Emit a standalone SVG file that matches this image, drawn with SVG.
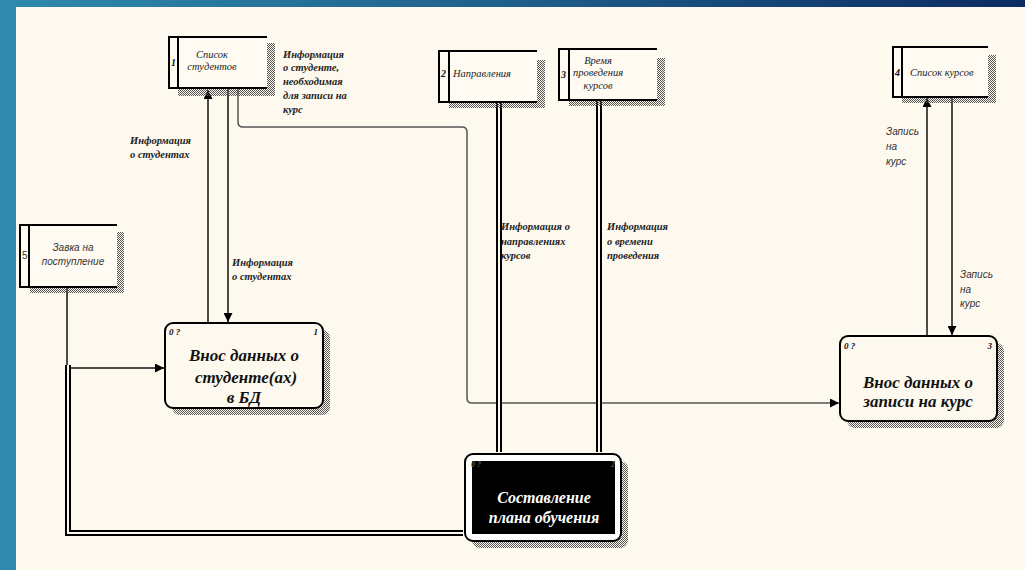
<svg xmlns="http://www.w3.org/2000/svg" width="1025" height="570" viewBox="0 0 1025 570">
<defs>
<linearGradient id="bg" x1="0" y1="0" x2="1" y2="0">
<stop offset="0" stop-color="#2f8aae"/>
<stop offset="0.5" stop-color="#1f5f8c"/>
<stop offset="1" stop-color="#0c2b62"/>
</linearGradient>
<pattern id="hatch" width="2" height="2" patternUnits="userSpaceOnUse">
<rect x="0" y="0" width="1" height="1" fill="#555"/>
<rect x="1" y="1" width="1" height="1" fill="#555"/>
</pattern>
<marker id="ah" viewBox="0 0 10 10" refX="10" refY="5" markerWidth="9" markerHeight="9" markerUnits="userSpaceOnUse" orient="auto">
<path d="M0,0 L10,5 L0,10 z" fill="#000"/>
</marker>
<style>
.store{fill:#fffbf2;stroke:none}
.sl{stroke:#000;stroke-width:2;fill:none}
.sh{fill:url(#hatch)}
.proc{fill:#fef9ee;stroke:#000;stroke-width:2}
.st{font-family:"Liberation Serif",serif;font-style:italic;font-size:10.5px;fill:#222}
.ss{font-family:"Liberation Sans",sans-serif;font-style:italic;font-size:10px;fill:#333}
.num{font-family:"Liberation Serif",serif;font-style:italic;font-weight:bold;font-size:10px;fill:#111}
.pt{font-family:"Liberation Serif",serif;font-style:italic;font-weight:bold;font-size:17px;fill:#111}
.ptw{font-family:"Liberation Serif",serif;font-style:italic;font-weight:bold;font-size:16px;fill:#fff}
.nd{font-family:"Liberation Serif",serif;font-style:italic;font-weight:bold;font-size:8px;fill:#555}
.lbl{font-family:"Liberation Serif",serif;font-style:italic;font-weight:bold;font-size:10.5px;fill:#222}
.ln{stroke:#111;stroke-width:1.5;fill:none}
.lg{stroke:#555;stroke-width:1.5;fill:none}
.dbo{stroke:#000;stroke-width:6;fill:none}
.dbi{stroke:#fef9ee;stroke-width:2;fill:none}
</style>
</defs>
<rect x="0" y="0" width="1025" height="570" fill="url(#bg)"/>
<rect x="16" y="7" width="1009" height="563" fill="#fef9ee"/>

<g id="connectors">
<line class="ln" x1="208" y1="323" x2="208" y2="90" marker-end="url(#ah)"/>
<line class="ln" x1="228" y1="89" x2="228" y2="322" marker-end="url(#ah)"/>
<path class="lg" d="M238,89 L238,122 Q238,127 243,127 L462,127 Q467,127 467,132 L467,398 Q467,403 472,403 L839,403" marker-end="url(#ah)"/>
<line class="dbo" x1="499" y1="102" x2="499" y2="452"/>
<line class="dbi" x1="499" y1="102" x2="499" y2="452"/>
<line class="dbo" x1="599" y1="100" x2="599" y2="452"/>
<line class="dbi" x1="599" y1="100" x2="599" y2="452"/>
<line class="ln" x1="927" y1="336" x2="927" y2="98" marker-end="url(#ah)"/>
<line class="ln" x1="952" y1="97" x2="952" y2="335" marker-end="url(#ah)"/>
<line class="ln" x1="67" y1="287" x2="67" y2="366"/>
<line class="ln" x1="68" y1="368" x2="164" y2="368" marker-end="url(#ah)"/>
<path class="dbo" d="M68,365 L68,533 L463,533"/>
<path class="dbi" d="M68,365 L68,533 L463,533"/>
</g>

<g id="labels">
<text class="lbl" x="283" y="58">Информация</text>
<text class="lbl" x="283" y="71">о студенте,</text>
<text class="lbl" x="283" y="85">необходимая</text>
<text class="lbl" x="283" y="99">для записи на</text>
<text class="lbl" x="283" y="113">курс</text>
<text class="lbl" x="130" y="144">Информация</text>
<text class="lbl" x="130" y="158">о студентах</text>
<text class="lbl" x="232" y="266">Информация</text>
<text class="lbl" x="232" y="280">о студентах</text>
<text class="lbl" x="501" y="230">Информация о</text>
<text class="lbl" x="501" y="245">направлениях</text>
<text class="lbl" x="501" y="259">курсов</text>
<text class="lbl" x="607" y="230">Информация</text>
<text class="lbl" x="607" y="245">о времени</text>
<text class="lbl" x="607" y="259">проведения</text>
<text class="ss" x="886" y="135">Запись</text>
<text class="ss" x="886" y="150">на</text>
<text class="ss" x="886" y="165">курс</text>
<text class="ss" x="960" y="278">Запись</text>
<text class="ss" x="960" y="293">на</text>
<text class="ss" x="960" y="307">курс</text>
</g>

<g id="store1">
<rect class="sh" x="267" y="43" width="8" height="53"/>
<rect class="sh" x="178" y="89" width="97" height="7"/>
<rect class="store" x="169" y="37" width="98" height="51"/>
<path class="sl" d="M267,37 L169,37 L169,88 L267,88 M178,37 L178,88"/>
<text class="num" x="171" y="66">1</text>
<text class="st" x="212" y="58" text-anchor="middle">Список</text>
<text class="st" x="212" y="70" text-anchor="middle">студентов</text>
</g>

<g id="store2">
<rect class="sh" x="537" y="60" width="8" height="48"/>
<rect class="sh" x="449" y="102" width="96" height="6"/>
<rect class="store" x="439" y="51" width="98" height="51"/>
<path class="sl" d="M537,51 L439,51 L439,102 L537,102 M449,51 L449,102"/>
<text class="num" x="441" y="77">2</text>
<text class="st" x="453" y="77">Направления</text>
</g>

<g id="store3">
<rect class="sh" x="657" y="58" width="8" height="48"/>
<rect class="sh" x="569" y="100" width="96" height="6"/>
<rect class="store" x="559" y="49" width="98" height="51"/>
<path class="sl" d="M657,49 L559,49 L559,100 L657,100 M569,49 L569,100"/>
<text class="num" x="561" y="78">3</text>
<text class="st" x="598" y="64" text-anchor="middle">Время</text>
<text class="st" x="598" y="76" text-anchor="middle">проведения</text>
<text class="st" x="598" y="89" text-anchor="middle">курсов</text>
</g>

<g id="store4">
<rect class="sh" x="988" y="55" width="8" height="48"/>
<rect class="sh" x="902" y="97" width="94" height="6"/>
<rect class="store" x="893" y="47" width="95" height="50"/>
<path class="sl" d="M988,47 L893,47 L893,97 L988,97 M902,47 L902,97"/>
<text class="num" x="895" y="76">4</text>
<text class="st" x="910" y="76">Список курсов</text>
</g>

<g id="store5">
<rect class="sh" x="117" y="232" width="7" height="61"/>
<rect class="sh" x="30" y="287" width="94" height="6"/>
<rect class="store" x="20" y="225" width="97" height="62"/>
<path class="sl" d="M117,225 L20,225 L20,287 L117,287 M29,225 L29,287"/>
<text class="ss" x="22" y="259" style="font-style:normal">5</text>
<text class="ss" x="73" y="251" text-anchor="middle">Завка на</text>
<text class="ss" x="73" y="265" text-anchor="middle">поступление</text>
</g>

<g id="process1">
<rect class="sh" x="172" y="330" width="158" height="85" rx="8"/>
<rect class="proc" x="165" y="323" width="158" height="85" rx="8"/>
<text class="num" x="169" y="335" style="font-size:9px">0 ?</text>
<text class="num" x="318" y="335" style="font-size:9px" text-anchor="end">1</text>
<text class="pt" x="244" y="361" text-anchor="middle">Внос данных о</text>
<text class="pt" x="246" y="383" text-anchor="middle">студенте(ах)</text>
<text class="pt" x="244" y="403" text-anchor="middle">в БД</text>
</g>

<g id="process2">
<rect class="sh" x="472" y="461" width="156" height="87" rx="8"/>
<rect x="465" y="454" width="156" height="87" rx="8" fill="#fff" stroke="#000" stroke-width="2"/>
<rect x="472" y="461" width="143" height="73" fill="#000"/>
<text class="nd" x="471" y="467">0 ?</text>
<text class="nd" x="615" y="467" text-anchor="end">2</text>
<text class="ptw" x="544" y="503" text-anchor="middle">Составление</text>
<text class="ptw" x="544" y="523" text-anchor="middle">плана обучения</text>
</g>

<g id="process3">
<rect class="sh" x="847" y="343" width="157" height="85" rx="8"/>
<rect class="proc" x="840" y="336" width="157" height="85" rx="8"/>
<text class="num" x="844" y="349" style="font-size:9px">0 ?</text>
<text class="num" x="992" y="349" style="font-size:9px" text-anchor="end">3</text>
<text class="pt" x="918" y="388" text-anchor="middle">Внос данных о</text>
<text class="pt" x="918" y="407" text-anchor="middle">записи на курс</text>
</g>
</svg>
